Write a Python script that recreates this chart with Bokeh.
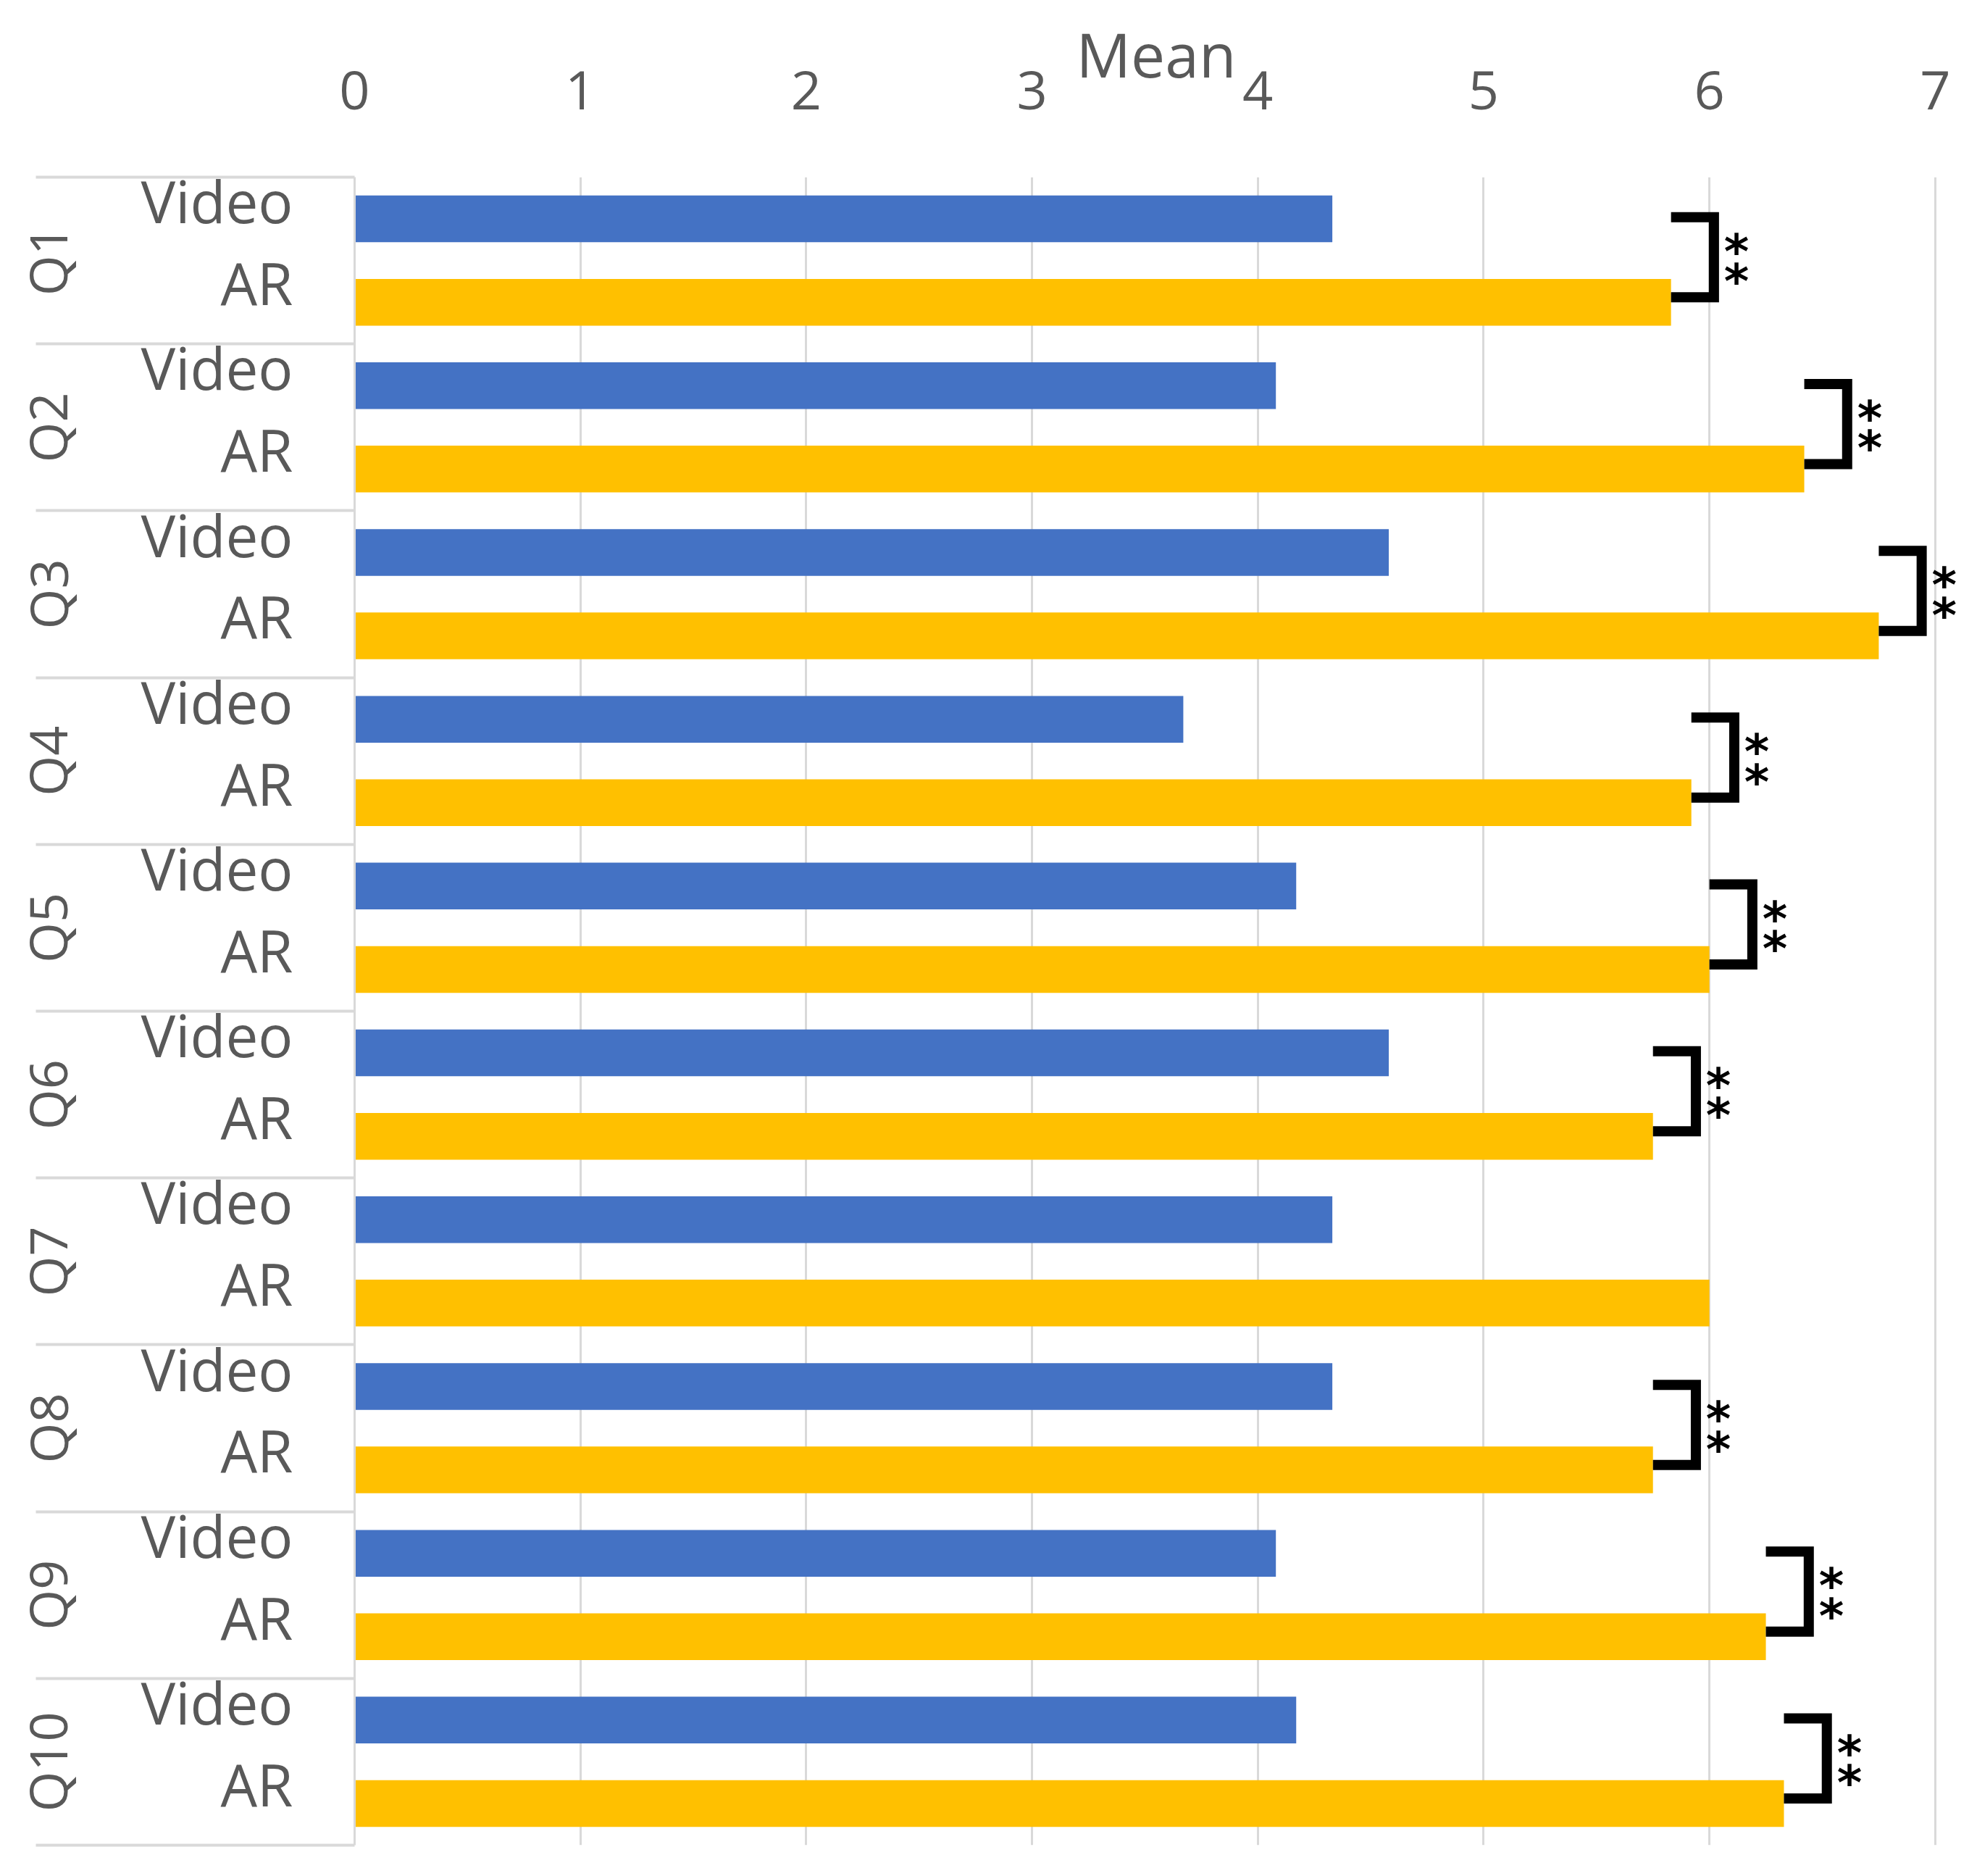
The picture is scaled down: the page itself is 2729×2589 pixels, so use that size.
from bokeh.plotting import figure
from bokeh.models import (ColumnDataSource, FixedTicker, Range1d, LinearAxis,
                          CustomJSTickFormatter)
from bokeh.core.properties import value
from bokeh.embed import file_html
from bokeh.resources import INLINE

# ---------------- data ----------------
questions = ["Q1", "Q2", "Q3", "Q4", "Q5", "Q6", "Q7", "Q8", "Q9", "Q10"]
conditions = ["Video", "AR"]
video_mean = [4.33, 4.08, 4.58, 3.67, 4.17, 4.58, 4.33, 4.33, 4.08, 4.17]
ar_mean = [5.83, 6.42, 6.75, 5.92, 6.00, 5.75, 6.00, 5.75, 6.25, 6.33]
significance = ["**", "**", "**", "**", "**", "**", "", "**", "**", "**"]
x_ticks = [0, 1, 2, 3, 4, 5, 6, 7]

# ---------------- style ----------------
BLUE = "#4472C4"
GOLD = "#FFC000"
GRID = "#d9d9d9"
TEXT = "#595959"
FONT = "Open Sans"

W, H = 2721, 2581
LEFT, TOP, BOTTOM = 489, 244, 35
X_END = 7.1
PX_PER_UNIT = 311.7
frame_w = round(X_END * PX_PER_UNIT)
RIGHT = W - LEFT - frame_w

n = len(questions)
video_y = [2 * i + 0.5 for i in range(n)]
ar_y = [2 * i + 1.5 for i in range(n)]
group_mid = [2 * i + 1.0 for i in range(n)]
boundaries = [2 * i for i in range(n + 1)]

p = figure(width=W, height=H, output_backend="svg", toolbar_location=None,
           x_range=Range1d(0, X_END), y_range=Range1d(2 * n, 0),
           x_axis_location="above",
           min_border_left=LEFT, min_border_right=RIGHT,
           min_border_top=TOP, min_border_bottom=BOTTOM)
p.outline_line_color = None
p.background_fill_color = "white"
p.border_fill_color = "white"

# bars
src_v = ColumnDataSource(dict(y=video_y, right=video_mean))
src_a = ColumnDataSource(dict(y=ar_y, right=ar_mean))
p.hbar(y="y", right="right", left=0, height=0.56, source=src_v,
       fill_color=BLUE, line_color=None)
p.hbar(y="y", right="right", left=0, height=0.56, source=src_a,
       fill_color=GOLD, line_color=None)

# significance brackets
BW = 0.19
bxs, bys, sx, sy, st = [], [], [], [], []
for i in range(n):
    if not significance[i]:
        continue
    a = ar_mean[i]
    yt = video_y[i] - 0.02
    yb = ar_y[i] - 0.06
    bxs.append([a, a + BW, a + BW, a])
    bys.append([yt, yt, yb, yb])
    mid = (yt + yb) / 2
    for k, s in enumerate(significance[i]):
        sx.append(a + BW + 0.10)
        sy.append(mid + (k - 0.5) * 0.36)
        st.append(s)
p.multi_line(xs=bxs, ys=bys, line_color="black", line_width=14,
             line_join="miter", line_cap="butt")
p.text(x=sx, y=sy, text=st, text_font=value("DejaVu Sans"),
       text_font_style="bold", text_font_size="66px", text_color="black",
       text_align="center", text_baseline="middle", y_offset=13)

# x axis (top)
xa = p.xaxis[0]
xa.ticker = FixedTicker(ticks=x_ticks)
xa.axis_line_color = None
xa.major_tick_line_color = None
xa.minor_tick_line_color = None
xa.major_label_text_font = FONT
xa.major_label_text_font_size = "74px"
xa.major_label_text_color = TEXT
xa.major_label_standoff = 88
xa.axis_label = "Mean"
xa.axis_label_text_font = FONT
xa.axis_label_text_font_size = "84px"
xa.axis_label_text_font_style = "normal"
xa.axis_label_text_color = TEXT
xa.axis_label_standoff = -37

p.xgrid.ticker = FixedTicker(ticks=x_ticks)
p.xgrid.grid_line_color = GRID
p.xgrid.grid_line_width = 3
p.ygrid.grid_line_color = None

# inner left axis: condition labels + group separators
SEP = 440
label_pos = []
label_txt = []
for i in range(n):
    label_pos += [video_y[i] - 0.22, ar_y[i] - 0.24]
    label_txt += conditions
ya = p.yaxis[0]
ya.ticker = FixedTicker(ticks=label_pos, minor_ticks=boundaries)
ya.formatter = CustomJSTickFormatter(args=dict(labels=label_txt),
                                     code="return labels[index];")
ya.axis_line_color = GRID
ya.axis_line_width = 3
ya.major_tick_line_color = None
ya.major_tick_out = 0
ya.major_tick_in = 0
ya.minor_tick_line_color = GRID
ya.minor_tick_line_width = 4
ya.minor_tick_out = SEP
ya.minor_tick_in = 0
ya.major_label_standoff = 85 - SEP
ya.major_label_text_font = FONT
ya.major_label_text_font_size = "80px"
ya.major_label_text_color = TEXT

# outer left axis: group labels Q1..Q10
qa = LinearAxis(ticker=FixedTicker(ticks=group_mid, minor_ticks=[]),
                formatter=CustomJSTickFormatter(args=dict(labels=questions),
                                                code="return labels[index];"))
qa.axis_line_color = None
qa.major_tick_line_color = None
qa.minor_tick_line_color = None
qa.major_tick_out = 0
qa.major_tick_in = 0
qa.major_label_orientation = "parallel"
qa.major_label_standoff = 77
qa.major_label_text_font = FONT
qa.major_label_text_font_size = "72px"
qa.major_label_text_color = TEXT
p.add_layout(qa, "left")

open("out.html", "w").write(file_html(p, INLINE))
